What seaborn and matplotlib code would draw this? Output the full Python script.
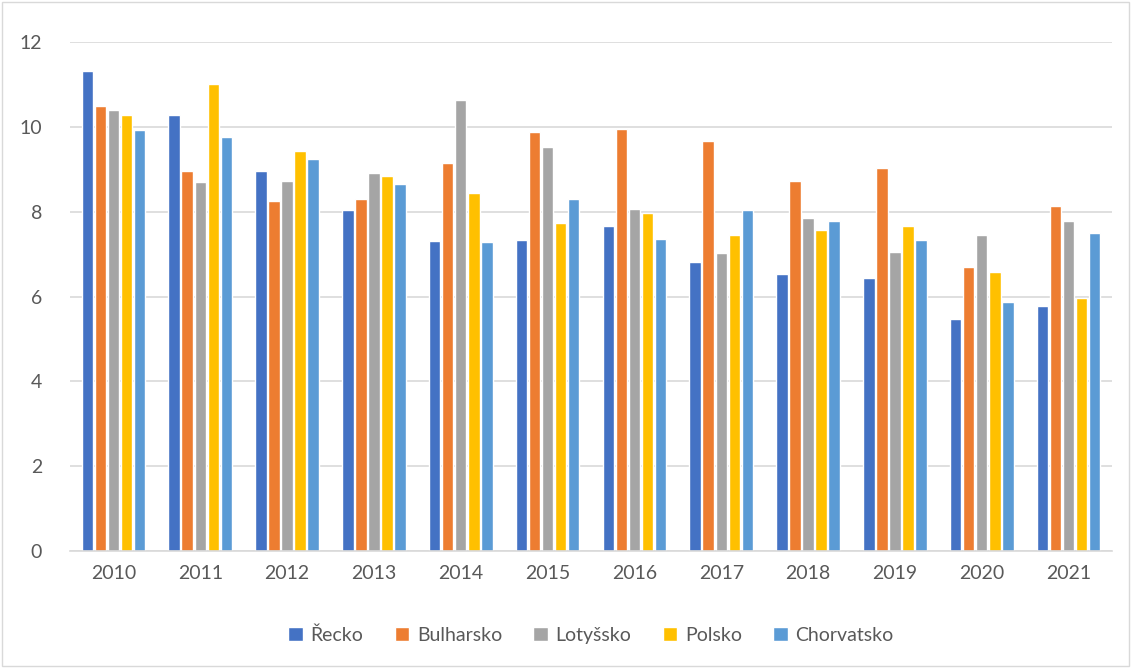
import seaborn as sns
import matplotlib.pyplot as plt
import pandas as pd
from matplotlib.patches import Rectangle

# Data
roky = ["2010", "2011", "2012", "2013", "2014", "2015",
        "2016", "2017", "2018", "2019", "2020", "2021"]
zeme = ["Řecko", "Bulharsko", "Lotyšsko", "Polsko", "Chorvatsko"]

recko = [11.32, 10.28, 8.96, 8.03, 7.31, 7.34, 7.67, 6.82, 6.54, 6.44, 5.48, 5.78]
bulharsko = [10.50, 8.96, 8.25, 8.29, 9.15, 9.88, 9.94, 9.66, 8.72, 9.02, 6.70, 8.14]
lotyssko = [10.40, 8.71, 8.72, 8.90, 10.64, 9.53, 8.07, 7.02, 7.86, 7.06, 7.44, 7.77]
polsko = [10.28, 11.02, 9.42, 8.83, 8.43, 7.74, 7.98, 7.46, 7.56, 7.67, 6.58, 5.96]
chorvatsko = [9.93, 9.77, 9.23, 8.66, 7.28, 8.29, 7.36, 8.05, 7.77, 7.33, 5.88, 7.50]

barvy = ["#4472C4", "#ED7D31", "#A5A5A5", "#FFC000", "#5B9BD5"]

df = pd.DataFrame({"Rok": roky, "Řecko": recko, "Bulharsko": bulharsko,
                   "Lotyšsko": lotyssko, "Polsko": polsko, "Chorvatsko": chorvatsko})
df = df.melt(id_vars="Rok", var_name="Země", value_name="Hodnota")

sns.set_style("white")
plt.rcParams["font.family"] = ["Lato", "DejaVu Sans"]

fig = plt.figure(figsize=(11.32, 6.68), dpi=100)
ax = fig.add_axes([70 / 1132, 1 - 551 / 668, 1042 / 1132, 509 / 668])

sns.barplot(data=df, x="Rok", y="Hodnota", hue="Země", hue_order=zeme,
            palette=barvy, width=0.75, gap=0.12, saturation=1, ax=ax)

ax.set_ylim(0, 12)
ax.set_yticks(range(0, 13, 2))
ax.set_xlim(-0.5, len(roky) - 0.5)
ax.grid(axis="y", color="#D9D9D9", linewidth=1.2)
ax.set_axisbelow(True)
for s in ["top", "right", "left"]:
    ax.spines[s].set_visible(False)
ax.spines["bottom"].set_color("#D9D9D9")
ax.spines["bottom"].set_linewidth(1.2)
ax.tick_params(axis="both", length=0, labelsize=14, colors="#595959", pad=10)
ax.tick_params(axis="y", pad=20)
ax.set_xlabel("")
ax.set_ylabel("")

ax.legend(loc="center", bbox_to_anchor=(0.5, (551 - 635) / 509), ncol=5,
          frameon=False, fontsize=14, labelcolor="#595959",
          handlelength=0.75, handleheight=0.75, handletextpad=0.4, columnspacing=1.6)

# chart area border
fig.patches.append(Rectangle((0.002, 0.003), 0.995, 0.994, transform=fig.transFigure,
                             fill=False, edgecolor="#D9D9D9", linewidth=1))

fig.savefig("out.png", dpi=100)
